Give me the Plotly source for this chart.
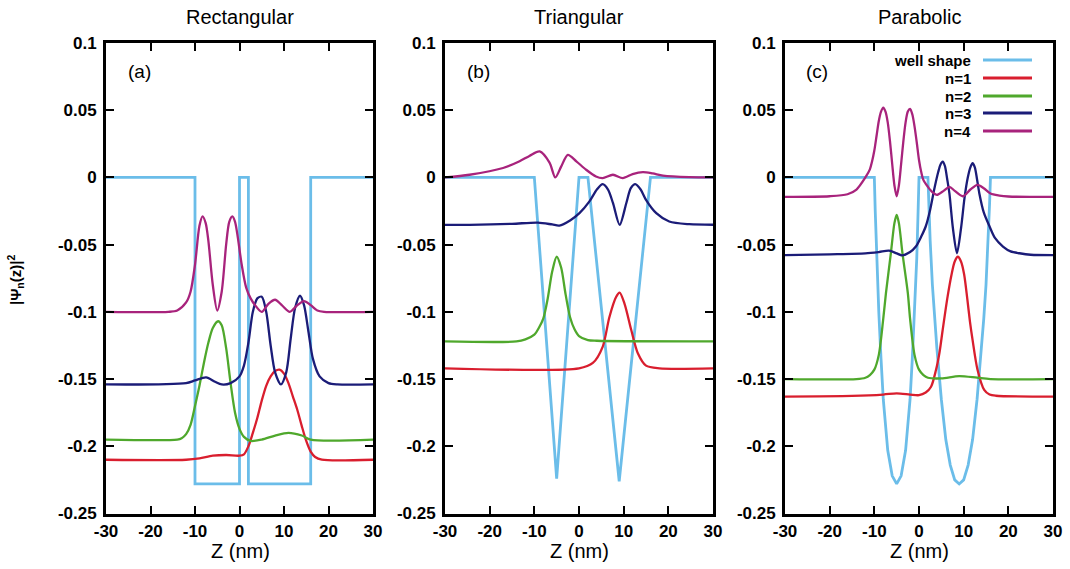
import plotly.graph_objects as go

# ---------------- data ----------------
# Panel (a) Rectangular
a_well_z = [-30, -10, -10, 0, 0, 2, 2, 16, 16, 30]
a_well_v = [0, 0, -0.228, -0.228, 0, 0, -0.228, -0.228, 0, 0]
a_n1_z = [-30, -12, -9, -6, -3, 0, 1, 2, 3, 4, 5, 6, 7, 8, 9, 10, 11, 12, 13, 14, 15, 16, 17, 18.5, 30]
a_n1_v = [-0.21, -0.21, -0.209, -0.207, -0.2065, -0.207, -0.206, -0.2, -0.19, -0.179, -0.166, -0.155, -0.148,
          -0.144, -0.143, -0.146, -0.153, -0.163, -0.173, -0.185, -0.196, -0.204, -0.208, -0.21, -0.21]
a_n2_z = [-30, -14, -13, -12, -11, -10, -9, -8, -7, -6, -4.8, -4, -3, -2, -1, 0, 1, 2.5, 5, 8, 11, 14, 16, 30]
a_n2_v = [-0.195, -0.195, -0.194, -0.191, -0.184, -0.17, -0.155, -0.138, -0.123, -0.112, -0.107, -0.11, -0.127,
          -0.153, -0.175, -0.187, -0.193, -0.196, -0.195, -0.192, -0.19, -0.192, -0.195, -0.195]
a_n3_z = [-30, -12, -10, -7.5, -5.5, -4, -2, 0, 1, 2, 3, 4, 5, 6, 7, 8, 9.3, 10.5, 11.5, 12.5, 13.6, 14.5, 15.5,
          16.5, 18, 20, 22, 30]
a_n3_v = [-0.154, -0.153, -0.151, -0.1487, -0.152, -0.154, -0.153, -0.148, -0.14, -0.123, -0.1, -0.09, -0.0887,
          -0.1, -0.125, -0.145, -0.154, -0.145, -0.12, -0.097, -0.088, -0.095, -0.115, -0.135, -0.148, -0.153,
          -0.154, -0.154]
a_n4_z = [-30, -16, -14, -12, -11, -10, -9, -8.3, -7.6, -7, -6, -5, -4, -3, -2.3, -1.6, -1, -0.5, 0.5, 1.5, 2.5,
          3.5, 5, 6.5, 8, 9.5, 11.3, 13, 14.5, 16, 17.5, 19, 30]
a_n4_v = [-0.1, -0.1, -0.099, -0.093, -0.085, -0.065, -0.036, -0.029, -0.034, -0.047, -0.08, -0.099, -0.085,
          -0.05, -0.033, -0.029, -0.033, -0.042, -0.065, -0.082, -0.09, -0.095, -0.1, -0.094, -0.091, -0.095,
          -0.1, -0.095, -0.092, -0.095, -0.099, -0.1, -0.1]

# Panel (b) Triangular
b_well_z = [-30, -10, -5, 0, 2, 9, 16, 30]
b_well_v = [0, 0, -0.224, 0, 0, -0.226, 0, 0]
b_n1_z = [-30, 0, 3.1, 5.3, 6.8, 8.3, 9.1, 10.2, 11.7, 13.2, 15, 18, 30]
b_n1_v = [-0.142, -0.142, -0.138, -0.126, -0.104, -0.089, -0.0857, -0.094, -0.1135, -0.131, -0.14, -0.142, -0.142]
b_n2_z = [-30, -14, -12, -10, -9, -8, -7, -6, -5, -4, -3, -2, -1, 0, 2, 4, 30]
b_n2_v = [-0.122, -0.122, -0.1205, -0.117, -0.112, -0.105, -0.09, -0.07, -0.059, -0.067, -0.087, -0.104, -0.113,
          -0.118, -0.121, -0.1215, -0.122]
b_n3_z = [-30, -24.5, -15, -9.2, -6, -4.4, -2, 0.1, 2.3, 4, 5.3, 6.5, 7.6, 9.1, 10.6, 11.6, 12.6, 13.8, 15, 17.3,
          20.2, 24.7, 30]
b_n3_v = [-0.0353, -0.0353, -0.0345, -0.0336, -0.035, -0.0358, -0.032, -0.0266, -0.018, -0.009, -0.005, -0.009,
          -0.019, -0.0353, -0.019, -0.008, -0.005, -0.009, -0.0167, -0.0266, -0.0328, -0.0348, -0.0352]
b_n4_z = [-30, -24.5, -17, -13.3, -11.1, -8.8, -6.6, -5.3, -4, -2.5, -0.6, 1.6, 3.8, 5.3, 7.6, 9.8, 12, 14.3,
          16.5, 18.8, 24.7, 30]
b_n4_v = [0.0, 0.002, 0.007, 0.012, 0.016, 0.0193, 0.011, 0.0, 0.008, 0.0168, 0.012, 0.0057, 0.0007, -0.0005,
          0.002, -0.0005, 0.0025, 0.004, 0.003, 0.0014, 0.0002, 0.0]

# Panel (c) Parabolic
c_well_z = [-30, -10, -9.8, -9.5, -9, -8.5, -8, -7, -6, -5, -4, -3, -2, -1.5, -1, -0.5, -0.2, 0, 2, 2.2, 2.5,
            3, 3.5, 4, 5, 6, 7, 8, 9, 10, 11, 12, 13, 14, 14.5, 15, 15.5, 15.8, 16, 30]
c_well_v = [0, 0, -0.025, -0.06, -0.1, -0.135, -0.165, -0.203, -0.222, -0.228, -0.222, -0.203, -0.165, -0.135,
            -0.1, -0.06, -0.025, 0, 0, -0.02, -0.047, -0.08, -0.105, -0.127, -0.165, -0.195, -0.214, -0.225,
            -0.228, -0.225, -0.214, -0.195, -0.165, -0.127, -0.105, -0.08, -0.047, -0.02, 0, 0]
c_n1_z = [-30, -15, -8, -5, -2, 0, 1.5, 2.7, 3.8, 4.6, 5.3, 6.4, 7.3, 8.0, 8.7, 9.4, 10.1, 10.8, 11.4, 12, 13.1,
          14.6, 15.8, 17.2, 30]
c_n1_v = [-0.163, -0.1625, -0.1615, -0.1606, -0.1615, -0.162, -0.16, -0.1557, -0.1433, -0.13, -0.1135, -0.0887,
          -0.072, -0.0625, -0.059, -0.0625, -0.072, -0.09, -0.107, -0.121, -0.143, -0.158, -0.1615, -0.1624,
          -0.163]
c_n2_z = [-30, -14, -12, -11, -10, -9, -8, -7.4, -6.3, -5.5, -5, -4.5, -3.7, -2.5, -2, -1, 0, 1, 2, 5, 9, 13, 16,
          30]
c_n2_v = [-0.15, -0.15, -0.149, -0.147, -0.143, -0.132, -0.105, -0.086, -0.0564, -0.034, -0.0278, -0.034,
          -0.0564, -0.086, -0.105, -0.132, -0.143, -0.147, -0.149, -0.1495, -0.1478, -0.149, -0.15, -0.15]
c_n3_z = [-30, -20, -12, -9, -6.7, -5, -3.8, -2, -0.7, 0.5, 1.5, 2.5, 3.4, 4.3, 4.8, 5.3, 5.8, 6.3, 6.8, 7.6, 8.5,
          9.4, 10.2, 10.9, 11.5, 12, 12.5, 13, 13.5, 14.5, 15.8, 17, 18.8, 20.5, 22.5, 25, 30]
c_n3_v = [-0.0578, -0.0572, -0.0565, -0.0555, -0.0545, -0.0565, -0.058, -0.0555, -0.0514, -0.044, -0.0365,
          -0.024, -0.009, 0.004, 0.0095, 0.0118, 0.0085, -0.001, -0.0117, -0.038, -0.0564, -0.038, -0.015,
          -0.0005, 0.0075, 0.0106, 0.0075, -0.0015, -0.0117, -0.026, -0.0365, -0.045, -0.0514, -0.055, -0.0564,
          -0.0575, -0.0578]
c_n4_z = [-30, -20, -16, -14, -12, -11, -10.5, -10, -9.5, -9, -8.5, -8, -7.5, -7, -6.5, -6, -5.5, -5, -4.5, -4,
          -3.5, -3, -2.5, -2, -1.5, -1, -0.5, 0, 0.5, 1, 2, 3, 4, 5.5, 6.8, 8, 9.8, 11.5, 13.1, 14.5, 16, 18, 20, 30]
c_n4_v = [-0.0145, -0.014, -0.0125, -0.009, 0.0, 0.006, 0.012, 0.02, 0.031, 0.042, 0.049, 0.052, 0.049, 0.041,
          0.027, 0.01, -0.006, -0.014, -0.006, 0.01, 0.027, 0.041, 0.049, 0.051, 0.047, 0.038, 0.026, 0.013,
          0.004, -0.002, -0.007, -0.011, -0.013, -0.01, -0.007, -0.01, -0.014, -0.009, -0.0055, -0.008, -0.012,
          -0.0135, -0.0142, -0.0145]

panel_titles = ["Rectangular", "Triangular", "Parabolic"]
panel_labels = ["(a)", "(b)", "(c)"]
series_names = ["well shape", "n=1", "n=2", "n=3", "n=4"]
x_ticks = [-30, -20, -10, 0, 10, 20, 30]
x_ticktext = ["-30", "-20", "-10", "0", "10", "20", "30"]
y_ticks = [0.1, 0.05, 0, -0.05, -0.1, -0.15, -0.2, -0.25]
y_ticktext = ["0.1", "0.05", "0", "-0.05", "-0.1", "-0.15", "-0.2", "-0.25"]

colors = ["#6BBDE9", "#D91E2E", "#4FA82C", "#1B1C78", "#A8237C"]

panels = [
    [(a_well_z, a_well_v), (a_n1_z, a_n1_v), (a_n2_z, a_n2_v), (a_n3_z, a_n3_v), (a_n4_z, a_n4_v)],
    [(b_well_z, b_well_v), (b_n1_z, b_n1_v), (b_n2_z, b_n2_v), (b_n3_z, b_n3_v), (b_n4_z, b_n4_v)],
    [(c_well_z, c_well_v), (c_n1_z, c_n1_v), (c_n2_z, c_n2_v), (c_n3_z, c_n3_v), (c_n4_z, c_n4_v)],
]

W, H = 1070, 569
x_domains = [(106 / W, 373 / W), (445 / W, 713 / W), (785 / W, 1053 / W)]
y_domain = (1 - 513.5 / H, 1 - 43 / H)

fig = go.Figure()
for p, series in enumerate(panels):
    xa = "x" if p == 0 else f"x{p + 1}"
    ya = "y" if p == 0 else f"y{p + 1}"
    for s, (zz, vv) in enumerate(series):
        if s == 0:
            line = dict(color=colors[s], width=2.8, shape="linear")
        else:
            line = dict(color=colors[s], width=2.3, shape="spline", smoothing=0.8)
        fig.add_trace(go.Scatter(x=zz, y=vv, mode="lines", line=line, name=series_names[s],
                                 showlegend=False, xaxis=xa, yaxis=ya))

tickfont = dict(family="Liberation Sans, Arial, sans-serif", size=17, color="black", weight="bold")
axis_common = dict(showline=True, linecolor="black", linewidth=2.8, mirror="ticks", ticks="inside",
                   ticklen=8, tickwidth=2.2, tickcolor="black", showgrid=False, zeroline=False,
                   tickfont=tickfont, automargin=False)
layout = dict(width=W, height=H, margin=dict(l=0, r=0, t=0, b=0, autoexpand=False), plot_bgcolor="white",
              paper_bgcolor="white", showlegend=False, autosize=False)
for p in range(3):
    xk = "xaxis" if p == 0 else f"xaxis{p + 1}"
    yk = "yaxis" if p == 0 else f"yaxis{p + 1}"
    layout[xk] = dict(domain=list(x_domains[p]), range=[-30, 30], tickvals=x_ticks, ticktext=x_ticktext,
                      anchor="y" if p == 0 else f"y{p + 1}", **axis_common)
    layout[yk] = dict(domain=list(y_domain), range=[-0.25, 0.1], tickvals=y_ticks, ticktext=y_ticktext,
                      anchor="x" if p == 0 else f"x{p + 1}", ticklabelstandoff=3, **axis_common)
fig.update_layout(**layout)

ann_font = dict(family="Liberation Sans, Arial, sans-serif", color="black")
centers = [240, 579, 919]
label_x = [139, 478, 817]
for p in range(3):
    fig.add_annotation(x=centers[p] / W, y=1 - 17 / H, xref="paper", yref="paper", text=panel_titles[p],
                       showarrow=False, font=dict(size=20, **ann_font), xanchor="center", yanchor="middle")
    fig.add_annotation(x=centers[p] / W, y=1 - 551 / H, xref="paper", yref="paper", text="Z (nm)",
                       showarrow=False, font=dict(size=20, **ann_font), xanchor="center", yanchor="middle")
    fig.add_annotation(x=label_x[p] / W, y=1 - 72 / H, xref="paper", yref="paper", text=panel_labels[p],
                       showarrow=False, font=dict(size=19, **ann_font), xanchor="center", yanchor="middle")

fig.add_annotation(x=15 / W, y=1 - 280 / H, xref="paper", yref="paper",
                   text="<b>|Ψ<sub>n</sub>(z)|<sup>2</sup></b>", textangle=-90, showarrow=False,
                   font=dict(size=15, **ann_font), xanchor="center", yanchor="middle")

# legend (text on the left, line sample on the right, as in the original)
leg_rows = [60, 78, 96, 113, 131]
for i, name in enumerate(series_names):
    yy = 1 - leg_rows[i] / H
    fig.add_annotation(x=973 / W, y=yy, xref="paper", yref="paper", text="<b>" + name + "</b>",
                       showarrow=False, font=dict(size=15, **ann_font), xanchor="right", yanchor="middle")
    fig.add_shape(type="line", xref="paper", yref="paper", x0=983 / W, x1=1032 / W, y0=yy, y1=yy,
                  line=dict(color=colors[i], width=2.8))

fig.write_html("out.html", config={"responsive": False},
               post_script="document.body.style.margin='0px';document.body.style.overflow='hidden';")
